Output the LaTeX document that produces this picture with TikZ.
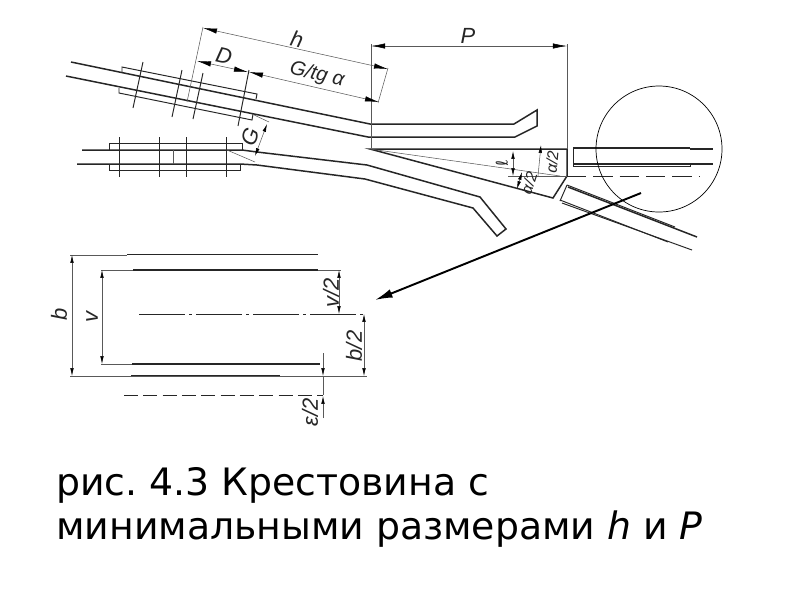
\documentclass[tikz,border=0pt]{standalone}
\usepackage{fontspec}
\setmainfont{DejaVu Sans}
\newfontfamily\dimfont{Liberation Sans}
\newfontfamily\ellfont{DejaVu Sans}
\usetikzlibrary{
	arrows.meta,						% Dimension arrows
	calc
}
\definecolor{dimgray}{gray}{0.35}
\begin{document}
\begin{tikzpicture}[x=0.02cm, y=-0.02cm]
		\tikzstyle{rail} = [draw, line width=0.85pt, black!85]
		\tikzstyle{plate} = [draw, line width=0.55pt, black!85]
		\tikzstyle{thinLine} = [draw, line width=0.3pt, dimgray]
		\tikzstyle{dimLine} = [thinLine, {Latex[length=8pt, width=3pt, black]}-{Latex[length=8pt, width=3pt, black]}]
		\tikzstyle{smallDim} = [thinLine, {Latex[length=4.5pt, width=2pt, black]}-{Latex[length=4.5pt, width=2pt, black]}]
		\tikzstyle{dimText} = [inner sep=0pt, text=black!85, font=\dimfont\itshape\fontsize{12.5}{13}\selectfont]
		\tikzstyle{smallText} = [inner sep=0pt, text=black!85, font=\dimfont\itshape\fontsize{9}{10}\selectfont]
		\tikzstyle{caption} = [anchor=base west, inner sep=0pt, font=\frenchspacing\fontsize{21.5}{22}\selectfont]

		\useasboundingbox[fill=white] (0,0) rectangle (800,600);

		% Upper rail
		\draw[rail] (71,62) -- (370,124) -- (514,124) -- (537,110) -- (537,126) -- (515,137) -- (368,137) -- (66,76);
		%% Fishplates
		\draw[plate] (122,72) -- (122,67) -- (257,94) -- (256,99);
		\draw[plate] (119,88) -- (119,93) -- (252,120) -- (253,114);
		%% Bolts
		\foreach \xa/\ya/\xb/\yb in {143/62/133/108, 182/70/172/117, 203/73/193/119, 249/70/238/126}{
			\draw[plate] (\xa,\ya) -- (\xb,\yb);
		}

		% Lower rail
		\draw[rail] (82,150) -- (242,150) -- (257,152) -- (367,165) -- (480,197) -- (506,229) -- (497,236) -- (473,208) -- (365,179) -- (257,165) -- (240,164) -- (77,164);
		%% Fishplates
		\draw[plate] (109,150) -- (109,143) -- (242,143) -- (242,150);
		\draw[plate] (109,164) -- (109,170) -- (240,170) -- (240,164);
		\draw[thinLine] (173,150) -- (173,164);
		%% Bolts
		\foreach \xa in {119, 159, 186, 226}{
			\draw[plate] (\xa,137) -- (\xa,177);
		}

		% Frog
		\draw[rail] (370,149) -- (567,149) -- (567,176) -- (553,198) -- cycle;
		\draw[thinLine] (370,149) -- (560,176);
		\draw[thinLine] (508,176) -- (567,176);
		\draw[plate, dash pattern=on 11pt off 4pt] (567,176) -- (700,176);

		% Straight rail in the circle
		\draw[rail] (573,148) -- (690,148);
		\draw[rail] (573,164) -- (713,164);
		\draw[rail] (690,149) -- (713,149);
		\draw[plate] (573,148) -- (573,166) -- (690,166) -- (690,164);
		\draw[line width=0.4pt] (659,149) circle (63);

		% Side rail
		\draw[plate] (567,185) -- (675,227);
		\draw[rail] (568,187) -- (697,237);
		\draw[plate] (567,185) -- (560,201);
		\draw[plate] (560,200) -- (668,242);
		\draw[plate] (562,203) -- (692,250);

		% Pointer to detail
		\coordinate (circleEnd) at (641,193);
		\coordinate (detailEnd) at (375,300);
		\draw[line width=1.1pt, black, -{Latex[length=10pt, width=5pt]}] (circleEnd) -- (detailEnd);

		% Dimensions
		%% Extension lines
		\draw[thinLine] (203,27) -- (187,102);
		\draw[thinLine] (388,68) -- (378,103);
		\draw[thinLine] (371,44) -- (371,148);
		\draw[thinLine] (567,44) -- (567,149);
		\draw[thinLine] (252,114) -- (269,122);
		\draw[thinLine] (227,150) -- (255,162);
		%% h, D, G/tg a, P, G
		\draw[dimLine] (203,28) -- (388,69);
		\draw[dimLine] (197,61) -- (248,72);
		\draw[dimLine] (249,72) -- (379,102);
		\draw[dimLine] (371,46) -- (567,46);
		\draw[smallDim] (267,124) -- (255,156);
		\node[dimText, rotate=-13] at (297,39) (labelH) {h};
		\node[dimText, rotate=-13] at (224,56) (labelD) {D};
		\node[dimText, rotate=-14, font=\dimfont\itshape\fontsize{11.5}{12}\selectfont] at (317,75) (labelGtg) {G/tg α};
		\node[dimText] at (468,36) (labelP) {P};
		\node[dimText, rotate=70] at (250,137) (labelG) {G};
		%% Frog angles
		\draw[smallDim] (513,151) -- (513,176);
		\draw[thinLine, {Latex[length=4.5pt, width=2pt, black]}-] (541,145) -- (538,176);
		\draw[smallDim] (522,172) -- (517,189);
		\node[smallText, rotate=100] at (502,163) (labelL) {\ellfont ℓ};
		\node[smallText, rotate=85] at (552,162) (labelAr) {α/2};
		\node[smallText, rotate=72] at (529,183) (labelAl) {α/2};

		% Detail
		%% Rails
		\draw[plate] (127,254) -- (318,254);
		\draw[rail] (133,270) -- (318,270);
		\draw[rail] (132,364) -- (320,364);
		\draw[rail] (131,376) -- (280,376);
		%% Axes
		\draw[plate, dash pattern=on 26pt off 2.5pt on 1.5pt off 2.5pt] (139,314) -- (367,314);
		\draw[plate, dash pattern=on 8pt off 3pt] (124,395) -- (323,395);
		%% Extension lines
		\draw[thinLine] (70,255) -- (127,255);
		\draw[thinLine] (101,270) -- (133,270);
		\draw[thinLine] (318,270) -- (341,270);
		\draw[thinLine] (101,364) -- (132,364);
		\draw[thinLine] (70,376) -- (367,376);
		%% Dimension lines
		\draw[smallDim] (72,255) -- (72,376);
		\draw[smallDim] (102,270) -- (102,364);
		\draw[smallDim] (339,270) -- (339,314);
		\draw[smallDim] (364,314) -- (364,376);
		\draw[thinLine, -{Latex[length=4.5pt, width=2pt, black]}] (323,353) -- (323,376);
		\draw[thinLine] (323,376) -- (323,395);
		\draw[thinLine, -{Latex[length=4.5pt, width=2pt, black]}] (323,418) -- (323,396);
		%% Labels
		\node[dimText, rotate=90] at (59,314) (labelB) {b};
		\node[dimText, rotate=90] at (92,317) (labelV) {v};
		\node[dimText, rotate=90] at (331,293) (labelVh) {v/2};
		\node[dimText, rotate=90] at (354,346) (labelBh) {b/2};
		\node[dimText, rotate=90] at (310,412) (labelEh) {ε/2};

		% Caption
		\node[caption] at (56,495) (captionOne) {рис. 4.3 Крестовина с};
		\node[caption] at (56,539) (captionTwo) {минимальными размерами \textit{h} и \textit{P}};
	\end{tikzpicture}
\end{document}
